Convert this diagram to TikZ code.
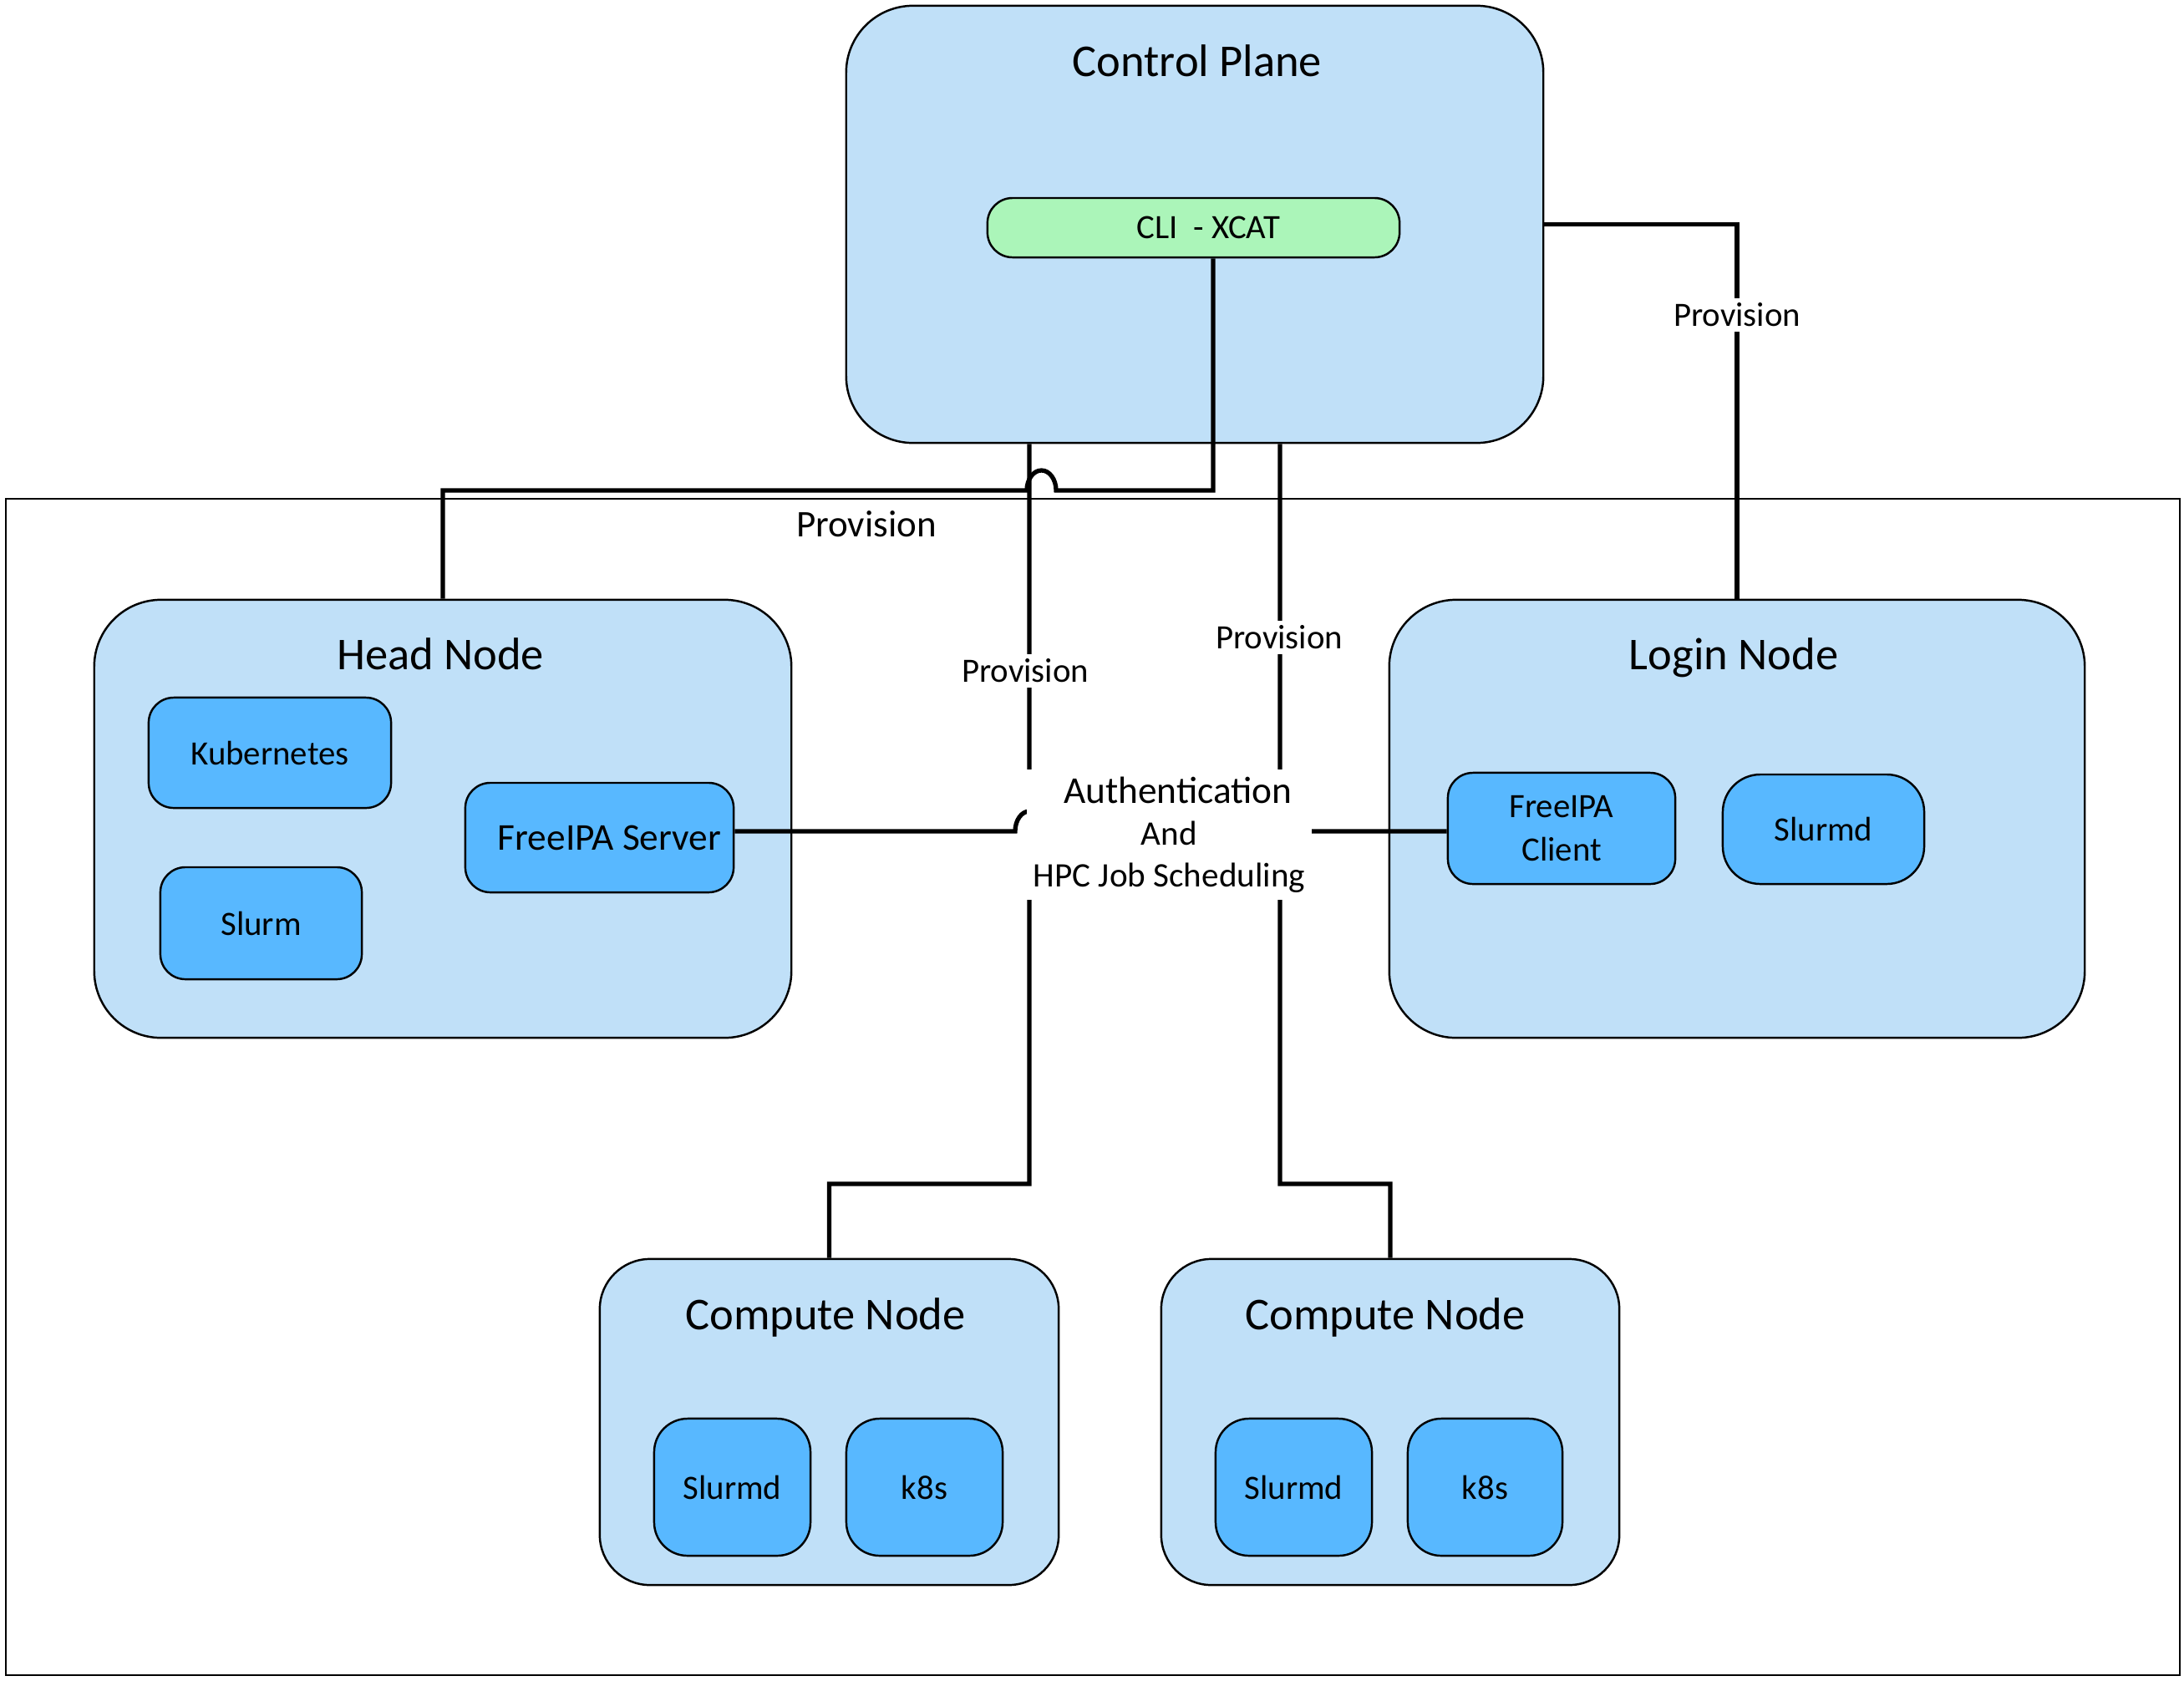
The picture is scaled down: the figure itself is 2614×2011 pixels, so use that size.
\documentclass[tikz,border=0pt]{standalone}
\usepackage{fontspec}
\setmainfont{Carlito}
\definecolor{grpblue}{RGB}{192,224,248}
\definecolor{compblue}{RGB}{88,184,255}
\definecolor{pillgreen}{RGB}{171,245,185}
\tikzset{
  grp/.style={draw, line width=0.7pt, fill=grpblue, rounded corners=0.8cm, inner sep=0pt},
  comp/.style={draw, line width=0.7pt, fill=compblue, rounded corners=0.3cm, inner sep=0pt,
    align=center, font=\fontsize{11.6}{14.6}\selectfont},
  pill/.style={draw, line width=0.7pt, fill=pillgreen, rounded corners=0.3cm, inner sep=0pt,
    font=\fontsize{11.6}{14}\selectfont},
  grptitle/.style={inner sep=0pt, text height=0.72em, text depth=0.22em, font=\fontsize{15.5}{18}\selectfont},
  conn/.style={line width=1.5pt},
  provlbl/.style={fill=white, inner sep=0.06cm, font=\fontsize{11.6}{14}\selectfont},
  authlbl/.style={fill=white, inner sep=0pt, align=center, font=\fontsize{11.7}{14.2}\selectfont}
}
\begin{document}
\begin{tikzpicture}[x=0.01cm,y=-0.01cm]
\useasboundingbox (0,0) rectangle (2614,2011);
\fill[white] (0,0) rectangle (2614,2011);
% outer frame
\draw[line width=0.5pt] (7,597) rectangle (2609,2005);

% Control plane
\node[grp, minimum width=8.34cm, minimum height=5.23cm] (cp) at (1430,268.5) {};
\node[grptitle] (cptitle) at (1433,83) {Control Plane};
\node[pill, minimum width=4.93cm, minimum height=0.71cm] (xcat) at (1428.5,272.5) {\hspace*{0.18cm}CLI\ \ - XCAT\hspace*{-0.18cm}};

% Head node
\node[grp, minimum width=8.34cm, minimum height=5.24cm] (head) at (530,980) {};
\node[grptitle] (headtitle) at (527,793) {Head Node};
\node[comp, minimum width=2.90cm, minimum height=1.32cm] (kube) at (323,901) {Kubernetes};
\node[comp, minimum width=2.41cm, minimum height=1.34cm] (slurm) at (312.5,1105) {Slurm};
\node[comp, minimum width=3.21cm, minimum height=1.31cm, font=\fontsize{12.9}{15}\selectfont] (srv) at (717.5,1002.5) {\hspace*{0.12cm}FreeIPA Server\hspace*{-0.12cm}};

% Login node
\node[grp, minimum width=8.32cm, minimum height=5.24cm] (login) at (2079,980) {};
\node[grptitle] (logintitle) at (2075,793) {Login Node};
\node[comp, minimum width=2.72cm, minimum height=1.33cm] (ipac) at (1869,991.5) {FreeIPA\\Client};
\node[comp, minimum width=2.41cm, minimum height=1.31cm, rounded corners=0.45cm] (lslurmd) at (2182.5,992.5) {Slurmd};

% Compute nodes
\node[grp, minimum width=5.49cm, minimum height=3.90cm, rounded corners=0.6cm] (c1) at (992.5,1702) {};
\node[grptitle] (c1title) at (988,1583) {Compute Node};
\node[comp, minimum width=1.87cm, minimum height=1.64cm, rounded corners=0.4cm] (c1s) at (876.5,1780) {Slurmd};
\node[comp, minimum width=1.87cm, minimum height=1.64cm, rounded corners=0.4cm] (c1k) at (1106.5,1780) {k8s};

\node[grp, minimum width=5.48cm, minimum height=3.90cm, rounded corners=0.6cm] (c2) at (1664,1702) {};
\node[grptitle] (c2title) at (1658,1583) {Compute Node};
\node[comp, minimum width=1.87cm, minimum height=1.64cm, rounded corners=0.4cm] (c2s) at (1548.5,1780) {Slurmd};
\node[comp, minimum width=1.85cm, minimum height=1.64cm, rounded corners=0.4cm] (c2k) at (1777.5,1780) {k8s};

% Connectors
% CLI -> Head node (with hop)
\draw[conn] ([xshift=0.235cm]xcat.south) -- (1452,587) -- (1264,587)
  arc[start angle=0, end angle=180, x radius=0.175cm, y radius=0.24cm]
  -- (530,587) -- (head.north);
\node[inner sep=0pt, font=\fontsize{12.8}{15}\selectfont] (provA) at (1037,627) {Provision};

% Control plane -> Compute 1
\draw[conn] ([xshift=-1.98cm]cp.south) -- (1232,1417) -- (992.5,1417) -- (c1.north);
% Control plane -> Compute 2
\draw[conn] ([xshift=1.02cm]cp.south) -- (1532,1417) -- (1664,1417) -- (c2.north);
% Control plane -> Login
\draw[conn] (cp.east) -- (2079,268.5) -- (login.north);

% FreeIPA server -> FreeIPA client (hops hidden by label)
\draw[conn] ([yshift=0.075cm]srv.east) -- (1215,995)
  arc[start angle=180, end angle=0, x radius=0.17cm, y radius=0.24cm]
  -- (1515,995)
  arc[start angle=180, end angle=0, x radius=0.17cm, y radius=0.24cm]
  -- ([yshift=-0.035cm]ipac.west);

\node[provlbl] (provB) at (1227,803) {Provision};
\node[provlbl] (provC) at (1531,763) {Provision};
\node[provlbl] (provD) at (2079,377) {Provision};

\node[authlbl, minimum width=3.41cm, minimum height=1.56cm] (auth) at (1399.5,999)
  {{\fontsize{12.9}{14.2}\selectfont\ \ Authentication}\\And\\HPC Job Scheduling};
\end{tikzpicture}
\end{document}
